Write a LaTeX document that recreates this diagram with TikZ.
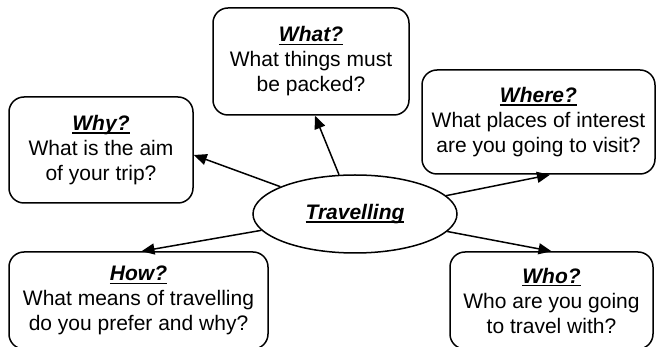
\documentclass[tikz,border=0pt]{standalone}
\usepackage{fontspec}
\setmainfont{Liberation Sans}
\usetikzlibrary{shapes.geometric,arrows.meta}
\newcommand\myul[1]{\sbox0{#1}\rlap{\rule[-3.2pt]{\wd0}{1.3pt}}\usebox0}
\newcommand\ttl[1]{\myul{\textbf{\textit{#1}}}}
\begin{document}
\begin{tikzpicture}[x=1pt,y=-1pt,
  qbox/.style={draw,line width=1.5pt,rounded corners=15pt,align=center,inner sep=0pt,
    font=\fontsize{21}{25}\selectfont},
  centre/.style={draw,line width=1.5pt,ellipse,inner sep=0pt,minimum width=204pt,minimum height=78pt,
    font=\fontsize{21}{25}\selectfont},
  link/.style={line width=1.5pt,-{Triangle[length=13pt,width=11pt]}}]
\useasboundingbox (0,0) rectangle (657,347);
\node[qbox,minimum width=196pt,minimum height=107pt] (what) at (311,61.5)
  {\ttl{What?}\\What things must\\be packed?};
\node[qbox,minimum width=184pt,minimum height=106pt] (why) at (101,150)
  {\ttl{Why?}\\What is the aim\\of your trip?};
\node[qbox,minimum width=233pt,minimum height=104pt] (where) at (538.5,122)
  {\ttl{Where?}\\What places of interest\\are you going to visit?};
\node[qbox,minimum width=259pt,minimum height=97pt] (how) at (138.5,300.5)
  {\ttl{How?}\\What means of travelling\\do you prefer and why?};
\node[qbox,minimum width=203pt,minimum height=97pt] (who) at (551.5,300.5)
  {\ttl{Who?}\\Who are you going\\to travel with?};
\node[centre] (trav) at (355,214) {\ttl{Travelling}};
\draw[link] (trav) -- ([yshift=-5pt]why.east);
\draw[link] (trav) -- ([xshift=4pt]what.south);
\draw[link] (trav) -- ([xshift=11.5pt]where.south);
\draw[link] (trav) -- (who.north);
\draw[link] (trav) -- ([xshift=3pt]how.north);
\end{tikzpicture}
\end{document}
